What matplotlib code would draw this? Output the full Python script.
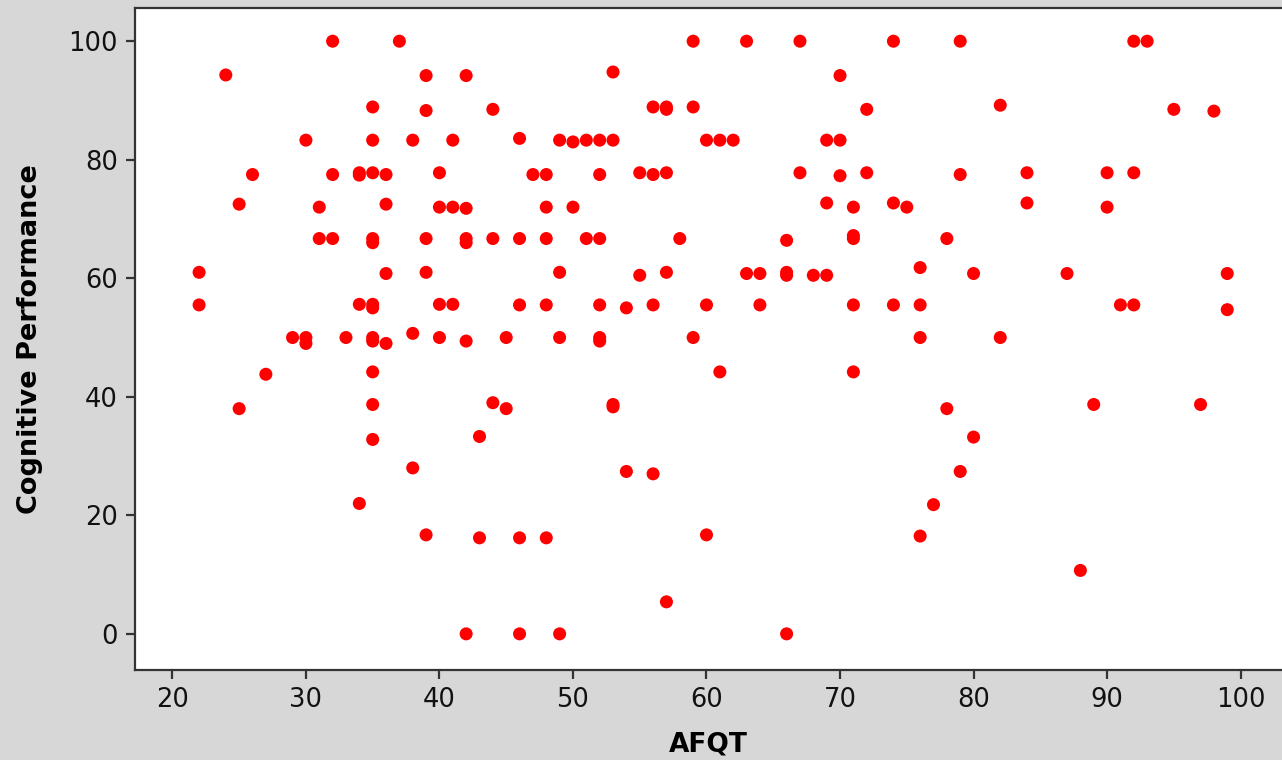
import numpy as np
import matplotlib
matplotlib.use('Agg')
import matplotlib.pyplot as plt

# AFQT score (x) and cognitive performance (y)
afqt = [22, 22, 24, 25, 25, 26, 27, 29, 30, 30, 30, 31, 31, 32, 32, 32, 33,
        34, 34, 34, 34,
        35, 35, 35, 35, 35, 35, 35, 35, 35, 35, 35, 35,
        36, 36, 36, 36, 37, 38, 38, 38,
        39, 39, 39, 39, 39, 40, 40, 40, 40, 41, 41, 41,
        42, 42, 42, 42, 42, 42, 43, 43, 44, 44, 44, 45, 45,
        46, 46, 46, 46, 46, 47, 48, 48, 48, 48, 48,
        49, 49, 49, 49, 50, 50, 51, 51,
        52, 52, 52, 52, 52, 52, 53, 53, 53, 53, 54, 54, 55, 55,
        56, 56, 56, 56, 57, 57, 57, 57, 57, 58, 59, 59, 59,
        60, 60, 60, 61, 61, 62, 63, 63, 64, 64,
        66, 66, 66, 66, 67, 67, 68, 69, 69, 69, 70, 70, 70,
        71, 71, 71, 71, 71, 72, 72, 74, 74, 74, 75,
        76, 76, 76, 76, 77, 78, 78, 79, 79, 79, 80, 80, 82, 82,
        84, 84, 87, 88, 89, 90, 90, 91, 92, 92, 92, 93, 95, 97, 98, 99, 99]

cognitive = [61, 55.5, 94.3, 72.5, 38, 77.5, 43.8, 50, 83.3, 50, 49, 72, 66.7, 100, 77.5, 66.7, 50,
             77.8, 77.4, 55.6, 22,
             88.9, 83.3, 77.8, 66.7, 66, 55.6, 55, 50, 49.4, 44.2, 38.7, 32.8,
             77.5, 72.5, 60.8, 49, 100, 83.3, 50.7, 28,
             94.2, 88.3, 66.7, 61, 16.7, 77.8, 72, 55.6, 50, 83.3, 72, 55.6,
             94.2, 71.8, 66.7, 66, 49.4, 0, 33.3, 16.2, 88.5, 66.7, 39, 50, 38,
             83.6, 66.7, 55.5, 16.2, 0, 77.5, 77.5, 72, 66.7, 55.5, 16.2,
             83.3, 61, 50, 0, 83, 72, 83.3, 66.7,
             83.3, 77.5, 66.7, 55.5, 50, 49.4, 94.8, 83.3, 38.7, 38.3, 55, 27.4, 77.8, 60.5,
             88.9, 77.5, 55.5, 27, 88.9, 88.5, 77.8, 61, 5.4, 66.7, 100, 88.9, 50,
             83.3, 55.5, 16.7, 83.3, 44.2, 83.3, 100, 60.8, 60.8, 55.5,
             66.4, 61, 60.5, 0, 100, 77.8, 60.5, 83.3, 72.7, 60.5, 94.2, 83.3, 77.3,
             72, 67.2, 66.7, 55.5, 44.2, 88.5, 77.8, 100, 72.7, 55.5, 72,
             61.8, 55.5, 50, 16.5, 21.8, 66.7, 38, 100, 77.5, 27.4, 60.8, 33.2, 89.2, 50,
             77.8, 72.7, 60.8, 10.7, 38.7, 77.8, 72, 55.5, 100, 77.8, 55.5, 100, 88.5, 38.7, 88.2, 60.8, 54.7]

x_ticks = [20, 30, 40, 50, 60, 70, 80, 90, 100]
y_ticks = [0, 20, 40, 60, 80, 100]

fig = plt.figure(figsize=(12.82, 7.6), dpi=100, facecolor='#d7d7d7')
ax = fig.add_axes([135/1282, 90/760, 1147/1282, 662/760])
ax.set_facecolor('white')

ax.scatter(afqt, cognitive, s=88, color='red', edgecolors='none', zorder=3)

ax.set_xlim(17.2, 103.1)
ax.set_ylim(-6.1, 105.6)
ax.set_xticks(x_ticks)
ax.set_yticks(y_ticks)

for side in ['left', 'bottom', 'top']:
    ax.spines[side].set_color('#333333')
    ax.spines[side].set_linewidth(1.6)
ax.spines['right'].set_visible(False)

ax.tick_params(direction='out', length=6.5, width=1.6, color='#333333',
               labelsize=18.5, labelcolor='#111111')
ax.tick_params(axis='x', pad=6)
ax.tick_params(axis='y', pad=6)

ax.set_xlabel('AFQT', fontsize=19, fontweight='bold', labelpad=13)
ax.set_ylabel('Cognitive Performance', fontsize=19.5, fontweight='bold', labelpad=18)

fig.savefig('out.png', dpi=100, facecolor=fig.get_facecolor())
